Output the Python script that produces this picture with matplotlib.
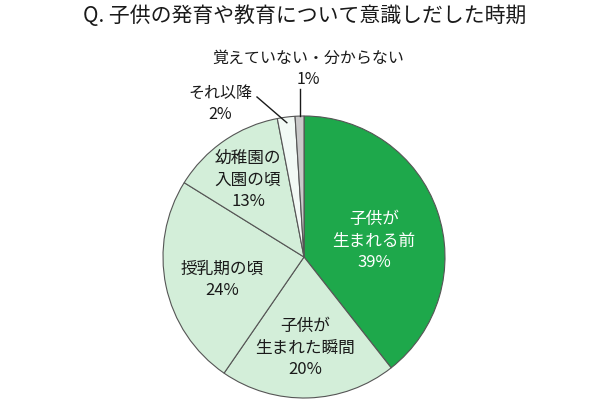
import matplotlib
matplotlib.use("Agg")
import matplotlib.pyplot as plt
import numpy as np

plt.rcParams['font.family'] = ['Noto Sans CJK JP', 'DejaVu Sans']

title = "Q. 子供の発育や教育について意識しだした時期"
labels = ["子供が\n生まれる前", "子供が\n生まれた瞬間", "授乳期の頃", "幼稚園の\n入園の頃", "それ以降", "覚えていない・分からない"]
values = [39, 20, 24, 13, 2, 1]
colors = ["#1ea84b", "#d3eed9", "#d3eed9", "#d3eed9", "#f2f9f5", "#c9c9c9"]
text_colors = ["white", "#1a1a1a", "#1a1a1a", "#1a1a1a", "#1a1a1a", "#1a1a1a"]

W, H = 610, 400
fig = plt.figure(figsize=(W / 100, H / 100), dpi=100)
ax = fig.add_axes([0, 0, 1, 1])

cx, cy, r = 304, 400 - 257, 141
wedges, _ = ax.pie(values, colors=colors, startangle=90, counterclock=False,
                   center=(cx, cy), radius=r, frame=True,
                   wedgeprops=dict(edgecolor="#555555", linewidth=0.8))
ax.set_xlim(0, W)
ax.set_ylim(0, H)
ax.set_aspect('equal')
ax.axis('off')

fig.text(305 / W, 1 - 16 / H, title, ha='center', va='center', fontsize=15, color='#1a1a1a')

# label positions in pixel coords (x, y from top)
pos = [(374, 241), (305, 348), (222, 280), (248, 180), (220, 104), (308, 69)]
sizes = [12, 12, 12, 12, 11.5, 11.5]
for i, (lab, v) in enumerate(zip(labels, values)):
    x, y = pos[i]
    ax.text(x, H - y, f"{lab}\n{v}%", ha='center', va='center', fontsize=sizes[i],
            color=text_colors[i], linespacing=1.35)

# leader lines for the small slices
def edge_point(w, frac):
    ang = np.deg2rad((w.theta1 + w.theta2) / 2)
    return cx + frac * r * np.cos(ang), cy + frac * r * np.sin(ang)

ex, ey = edge_point(wedges[4], 0.96)
ax.plot([257, ex], [H - 97, ey], color='#1a1a1a', lw=1.0)
ex, ey = edge_point(wedges[5], 1.0)
ax.plot([ex, ex], [H - 89, ey], color='#1a1a1a', lw=1.0)

fig.savefig("out.png", dpi=100, facecolor='white')
